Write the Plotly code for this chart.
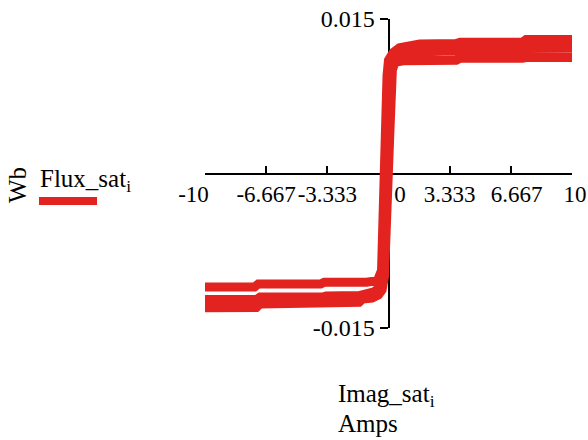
import plotly.graph_objects as go

# Magnetising current (A) and flux linkage (Wb) of the saturating core,
# traced in time order over one and a half cycles (the drive current swings
# a little past +/-10 A, so the ends are cut off by the axis range).
imag_sat = [
    # rising branch, first pass
    -12.0, -7.2, -7.0, -4.6, -4.4, -1.6, -1.4, -0.9, -0.55, -0.35, -0.22,
    -0.15, 0.0, 0.12, 0.2, 0.35, 0.8, 3.7, 3.9, 7.3, 7.5, 12.0,
    # falling branch
    12.0, 7.5, 7.3, 3.9, 3.7, 1.7, 1.1, 0.6, 0.25, 0.0, -0.08, -0.15, -0.16,
    -0.25, -0.38, -0.6, -0.9, -1.2, -3.5, -3.7, -7.1, -7.3, -12.0,
    # rising branch, second pass
    -12.0, -7.2, -7.0, -3.6, -3.4, -1.6, -1.3, -0.8, -0.45, -0.25, -0.15,
    0.0, 0.12, 0.22, 0.45, 0.9, 3.7, 3.9, 7.3, 7.5, 12.0,
]
flux_sat = [
    -0.01305, -0.01301, -0.01267, -0.01267, -0.01257, -0.01250, -0.01218,
    -0.01210, -0.01180, -0.01130, -0.01000, -0.00600, 0.0, 0.00850, 0.01000,
    0.01080, 0.01095, 0.01100, 0.01118, 0.01120, 0.01126, 0.01128,
    0.01303, 0.01301, 0.01275, 0.01275, 0.01262, 0.01258, 0.01248, 0.01222,
    0.01175, 0.01100, 0.00950, 0.00400, 0.0, -0.00600, -0.00940, -0.01040,
    -0.01053, -0.01055, -0.01055, -0.01073, -0.01073, -0.01102, -0.01104,
    -0.01224, -0.01223, -0.01200, -0.01200, -0.01190, -0.01185, -0.01165,
    -0.01150, -0.01100, -0.01000, -0.00600, 0.0, 0.00850, 0.01050, 0.01150,
    0.01180, 0.01190, 0.01200, 0.01205, 0.01214, 0.01216,
]

x_ticks = [-10, -6.667, -3.333, 0, 3.333, 6.667, 10]
x_tick_text = ["-10", "-6.667", "-3.333", "0", "3.333", "6.667", "10"]
y_ticks = [-0.015, 0.015]
y_tick_text = ["-0.015", "0.015"]

RED = "#e2231f"
FONT = "Liberation Serif"
NB = "\u00a0"

# plot-area box in pixels
W, H = 588, 440
L, R, T, B = 205, 16, 19, 112
PW, PH = W - L - R, H - T - B


def px(x):
    return (x - L) / PW


def py(y):
    return (H - B - y) / PH


# nudge a few tick labels sideways so they clear the vertical axis
shifted = {
    "-10": "-10" + NB * 4,
    "0": NB * 4 + "0",
    "6.667": NB * 2 + "6.667",
    "10": NB + "10",
}
x_tick_text = [shifted.get(t, t) for t in x_tick_text]

fig = go.Figure(
    go.Scatter(
        x=imag_sat,
        y=flux_sat,
        mode="lines",
        line=dict(color=RED, width=9),
        showlegend=False,
        hoverinfo="skip",
    )
)

axis_common = dict(
    showgrid=False,
    zeroline=False,
    showline=True,
    linecolor="black",
    linewidth=2,
    tickcolor="black",
    tickwidth=2,
    anchor="free",
    position=0.5,
    layer="below traces",
    tickangle=0,
    automargin=False,
    fixedrange=True,
)

fig.update_xaxes(
    range=[-10, 10],
    tickmode="array",
    tickvals=x_ticks,
    ticktext=x_tick_text,
    ticks="inside",
    ticklen=7,
    tickfont=dict(family=FONT, size=23, color="black"),
    **axis_common,
)
fig.update_yaxes(
    range=[-0.015, 0.015],
    tickmode="array",
    tickvals=y_ticks,
    ticktext=y_tick_text,
    ticks="outside",
    ticklen=8,
    tickfont=dict(family=FONT, size=24, color="black"),
    **axis_common,
)

ann_font = dict(family=FONT, size=25, color="black")
fig.update_layout(
    template="none",
    font=dict(family=FONT, color="black"),
    width=W,
    height=H,
    margin=dict(l=L, r=R, t=T, b=B, autoexpand=False),
    paper_bgcolor="white",
    plot_bgcolor="white",
    showlegend=False,
    annotations=[
        dict(x=px(17), y=py(185), xref="paper", yref="paper", text="Wb",
             textangle=-90, showarrow=False, xanchor="center",
             yanchor="middle", font=ann_font),
        dict(x=px(38), y=py(180), xref="paper", yref="paper",
             text="Flux_sat<sub>i</sub>", showarrow=False, xanchor="left",
             yanchor="middle", font=ann_font),
        dict(x=px(336), y=py(395), xref="paper", yref="paper",
             text="Imag_sat<sub>i</sub>", showarrow=False, xanchor="left",
             yanchor="middle", font=ann_font),
        dict(x=px(336), y=py(423), xref="paper", yref="paper",
             text="Amps", showarrow=False, xanchor="left",
             yanchor="middle", font=ann_font),
    ],
    shapes=[
        dict(type="line", xref="paper", yref="paper",
             x0=px(39), x1=px(97), y0=py(201), y1=py(201),
             line=dict(color=RED, width=8)),
    ],
)

fig.write_html("out.html", config={"displayModeBar": False})
